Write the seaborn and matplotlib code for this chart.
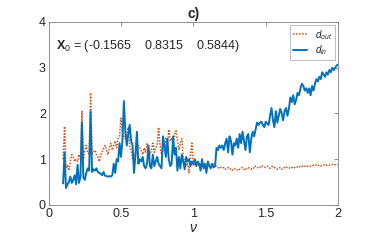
import numpy as np
import pandas as pd
import seaborn as sns
import matplotlib
matplotlib.use("Agg")
import matplotlib.pyplot as plt

# valores, nu de 0.10 a 2.00 (passo 0.01)
d_in = [
    0.47, 1.15, 0.37, 0.45, 0.50, 0.62, 0.48, 0.55, 0.65, 0.45,
    0.88, 0.48, 0.62, 1.80, 0.60, 0.55, 0.70, 0.80, 0.75, 2.05,
    0.72, 0.78, 0.75, 0.80, 0.72, 0.70, 0.68, 0.65, 0.72, 0.64,
    0.63, 0.62, 0.63, 0.62, 0.65, 0.90, 0.70, 1.00, 0.95, 1.35,
    1.05, 1.40, 2.27, 1.60, 1.30, 1.55, 1.75, 1.40, 1.30, 0.70,
    1.10, 1.60, 0.90, 1.00, 0.95, 1.05, 0.85, 0.80, 0.90, 1.30,
    0.85, 0.80, 1.10, 0.85, 0.95, 1.05, 0.90, 0.85, 0.80, 1.50,
    1.30, 1.05, 1.45, 1.00, 0.85, 0.90, 1.50, 1.10, 1.25, 0.75,
    1.05, 0.80, 1.10, 0.95, 0.78, 1.05, 0.95, 1.00, 0.85, 0.95,
    0.90, 1.00, 0.85, 0.95, 0.90, 0.75, 1.00, 0.80, 0.90, 0.70,
    0.95, 0.85, 0.80, 0.90, 0.82, 0.85, 1.25, 1.20, 1.30, 1.25,
    1.30, 1.20, 1.35, 1.45, 1.15, 1.50, 1.40, 1.10, 1.35, 1.30,
    1.45, 1.25, 1.55, 1.35, 1.60, 1.40, 1.20, 1.50, 1.55, 1.15,
    1.45, 1.60, 1.50, 1.65, 1.80, 1.75, 1.80, 1.82, 1.75, 1.70,
    1.82, 1.78, 1.75, 1.95, 2.12, 1.85, 1.70, 2.05, 1.80, 1.95,
    2.10, 2.00, 1.85, 2.05, 2.12, 1.95, 2.10, 2.35, 2.25, 2.40,
    2.20, 2.30, 2.45, 2.40, 2.55, 2.65, 2.60, 2.50, 2.55, 2.45,
    2.55, 2.40, 2.60, 2.50, 2.65, 2.75, 2.70, 2.80, 2.75, 2.90,
    2.85, 2.80, 2.90, 2.85, 2.95, 2.90, 3.00, 2.95, 3.00, 3.05,
    3.07,
]
d_out = [
    1.00, 1.72, 0.80, 0.88, 0.75, 0.95, 1.10, 1.05, 0.95, 1.00,
    0.95, 1.10, 1.00, 2.05, 1.00, 1.20, 1.30, 1.15, 1.10, 2.45,
    1.10, 1.15, 1.20, 1.10, 1.05, 0.95, 1.10, 1.15, 1.25, 1.30,
    1.20, 1.10, 1.25, 1.35, 1.20, 1.30, 1.40, 1.25, 1.45, 1.50,
    1.90, 1.55, 1.50, 1.45, 1.55, 1.70, 1.30, 1.20, 1.00, 1.10,
    1.05, 1.30, 1.30, 1.25, 1.20, 1.10, 1.25, 1.15, 1.35, 1.20,
    1.10, 1.20, 1.35, 1.15, 1.25, 1.30, 1.70, 1.30, 1.10, 1.20,
    1.30, 1.45, 1.20, 1.65, 1.40, 1.45, 1.35, 1.55, 1.62, 1.40,
    1.20, 1.35, 1.45, 1.05, 0.95, 0.85, 0.90, 0.70, 1.10, 1.35,
    0.85, 0.90, 0.88, 0.85, 0.90, 0.88, 0.85, 0.90, 0.87, 0.88,
    0.90, 0.85, 0.88, 0.90, 0.86, 0.84, 0.85, 0.82, 0.80, 0.82,
    0.80, 0.82, 0.78, 0.80, 0.82, 0.78, 0.80, 0.76, 0.78, 0.80,
    0.77, 0.75, 0.78, 0.80, 0.82, 0.78, 0.76, 0.80, 0.82, 0.80,
    0.78, 0.82, 0.80, 0.85, 0.83, 0.80, 0.82, 0.86, 0.84, 0.82,
    0.84, 0.85, 0.82, 0.80, 0.83, 0.85, 0.82, 0.80, 0.78, 0.80,
    0.82, 0.78, 0.80, 0.82, 0.84, 0.81, 0.80, 0.83, 0.82, 0.80,
    0.82, 0.84, 0.83, 0.85, 0.82, 0.84, 0.86, 0.85, 0.83, 0.85,
    0.86, 0.84, 0.85, 0.87, 0.86, 0.88, 0.86, 0.87, 0.85, 0.87,
    0.88, 0.86, 0.87, 0.88, 0.87, 0.88, 0.89, 0.87, 0.88, 0.89,
    0.88,
]
nu = np.linspace(0.1, 2.0, len(d_in))

sns.set_theme(style="white")
plt.rcParams['font.family'] = ['Liberation Sans', 'DejaVu Sans']
plt.rcParams['mathtext.fontset'] = 'custom'
plt.rcParams['mathtext.rm'] = 'Liberation Sans'
plt.rcParams['mathtext.it'] = 'Liberation Sans:italic'
plt.rcParams['mathtext.bf'] = 'Liberation Sans:bold'

fig = plt.figure(figsize=(3.74, 2.44), dpi=100)
ax = fig.add_axes([0.13, 0.16, 0.774, 0.75])

sns.lineplot(x=nu, y=d_out, ax=ax, color='#D95319', linestyle=(0, (1, 1)), linewidth=1.1, label=r'$d_{out}$')
sns.lineplot(x=nu, y=d_in, ax=ax, color='#0072BD', linewidth=1.4, label=r'$d_{in}$')

ax.set_xlim(0, 2)
ax.set_ylim(0, 4)
ax.set_xticks([0, 0.5, 1, 1.5, 2])
ax.set_xticklabels(['0', '0.5', '1', '1.5', '2'])
ax.set_yticks([0, 1, 2, 3, 4])
ax.tick_params(direction='in', length=3, width=0.6, color='#808080',
               labelsize=9, top=True, right=True, pad=2, labelcolor='#262626')
for s in ax.spines.values():
    s.set_color('#808080')
    s.set_linewidth(0.6)

ax.set_xlabel(r'$\nu$', fontsize=10, labelpad=1)
ax.set_title('c)', fontsize=10, fontweight='bold', pad=3)
ax.text(0.025, 0.87, r'$\mathbf{X}_0$ = (-0.1565    0.8315    0.5844)',
        transform=ax.transAxes, fontsize=9, va='center')

leg = ax.legend(loc='upper right', fontsize=7, frameon=True, fancybox=False,
                handlelength=1.5, borderpad=0.3, labelspacing=0.2,
                borderaxespad=0.3)
leg.get_frame().set_edgecolor('#a0a0a0')
leg.get_frame().set_linewidth(0.6)

fig.savefig('out.png', dpi=100)
